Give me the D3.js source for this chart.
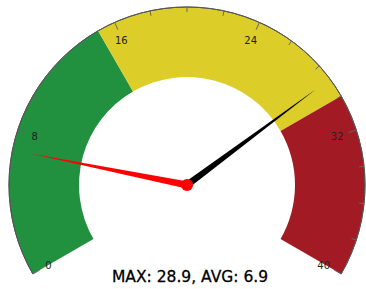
<!DOCTYPE html>
<html>
<head>
<meta charset="utf-8">
<script src="https://cdn.jsdelivr.net/npm/d3@7.9.0/dist/d3.min.js"></script>
<style>
  body { margin: 0; background: #fff; }
  svg { display: block; font-family: "DejaVu Sans", sans-serif; }
</style>
</head>
<body>
<svg id="gauge" width="366" height="289"></svg>
<script>
const bands = [
  { from: 0, to: 15, color: '#21903f' },
  { from: 15, to: 30, color: '#dccd28' },
  { from: 30, to: 40, color: '#a21b24' }
];
const majorTicks = [0, 8, 16, 24, 32, 40];
const minorTicks = d3.range(0, 41, 2);
const maxValue = 28.9;
const avgValue = 6.9;

const svg = d3.select('#gauge');
const cx = 187, cy = 185;
const outerR = 178, innerR = 108;

// value -> angle in radians, 0 at top, clockwise
const angle = d3.scaleLinear().domain([0, 40]).range([-2 * Math.PI / 3, 2 * Math.PI / 3]);

const g = svg.append('g').attr('transform', `translate(${cx},${cy})`);

const arc = d3.arc().innerRadius(innerR).outerRadius(outerR);
g.selectAll('path.band')
  .data(bands)
  .join('path')
  .attr('class', 'band')
  .attr('fill', d => d.color)
  .attr('d', d => arc({ startAngle: angle(d.from), endAngle: angle(d.to) }));

// outer rim
g.append('path')
  .attr('d', d3.arc().innerRadius(outerR).outerRadius(outerR)({ startAngle: angle(0), endAngle: angle(40) }))
  .attr('fill', 'none')
  .attr('stroke', '#555')
  .attr('stroke-width', 1);

const pt = (v, r) => [r * Math.sin(angle(v)), -r * Math.cos(angle(v))];

g.selectAll('line.minor')
  .data(minorTicks.filter(v => !majorTicks.includes(v)))
  .join('line')
  .attr('class', 'minor')
  .attr('x1', d => pt(d, outerR)[0]).attr('y1', d => pt(d, outerR)[1])
  .attr('x2', d => pt(d, outerR - 5)[0]).attr('y2', d => pt(d, outerR - 5)[1])
  .attr('stroke', '#666').attr('stroke-width', 1);

g.selectAll('line.major')
  .data(majorTicks)
  .join('line')
  .attr('class', 'major')
  .attr('x1', d => pt(d, outerR)[0]).attr('y1', d => pt(d, outerR)[1])
  .attr('x2', d => pt(d, outerR - 8)[0]).attr('y2', d => pt(d, outerR - 8)[1])
  .attr('stroke', '#666').attr('stroke-width', 1);

g.selectAll('text.lbl')
  .data(majorTicks)
  .join('text')
  .attr('class', 'lbl')
  .attr('x', d => pt(d, 159)[0] - 1)
  .attr('y', d => pt(d, 159)[1] + 1)
  .attr('dy', '0.35em')
  .attr('text-anchor', 'middle')
  .attr('font-size', 10)
  .attr('fill', '#222')
  .text(d => d);

function needle(v, len, base, color) {
  const a = angle(v);
  const ux = Math.sin(a), uy = -Math.cos(a);
  const px = -uy, py = ux;
  const pts = [
    [ux * len, uy * len],
    [px * base / 2, py * base / 2],
    [-px * base / 2, -py * base / 2]
  ];
  g.append('path')
    .attr('d', d3.line()(pts) + 'Z')
    .attr('fill', color);
}
needle(maxValue, 161, 7, '#000');
needle(avgValue, 160, 7, '#ff0000');

g.append('circle').attr('r', 6).attr('fill', '#ff0000');

svg.append('text')
  .attr('x', 190)
  .attr('y', 282)
  .attr('text-anchor', 'middle')
  .attr('font-size', 15.5)
  .attr('fill', '#000')
  .attr('stroke', '#000')
  .attr('stroke-width', 0.3)
  .text(`MAX: ${maxValue}, AVG: ${avgValue}`);
</script>
</body>
</html>
